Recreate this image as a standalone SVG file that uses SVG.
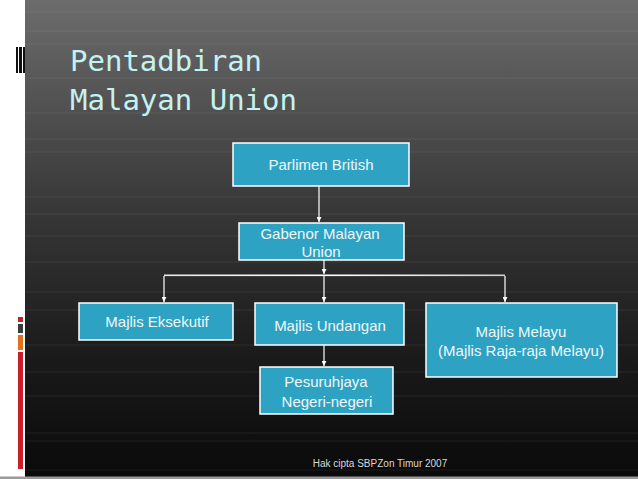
<svg xmlns="http://www.w3.org/2000/svg" width="638" height="479" viewBox="0 0 638 479">
<defs>
<linearGradient id="bg" x1="0" y1="0" x2="0" y2="1">
<stop offset="0" stop-color="#6c6c6c"/>
<stop offset="0.45" stop-color="#363636"/>
<stop offset="0.75" stop-color="#1a1a1a"/>
<stop offset="1" stop-color="#0a0a0a"/>
</linearGradient>
<linearGradient id="hbar" x1="0" y1="0" x2="1" y2="0">
<stop offset="0" stop-color="#e8e8e8"/>
<stop offset="0.5" stop-color="#ffffff"/>
<stop offset="1" stop-color="#cfcfcf"/>
</linearGradient>
<marker id="ah" markerWidth="6" markerHeight="5" refX="5" refY="2.5" orient="auto" markerUnits="userSpaceOnUse">
<path d="M0,0 L5,2.5 L0,5 Z" fill="#ffffff"/>
</marker>
<style>
.box{fill:#2ea2c2;stroke:#ffffff;stroke-width:1.5}
.lbl{font-family:"Liberation Sans",Arial,sans-serif;font-size:15px;fill:#eef8fb;text-anchor:middle}
.con{stroke:#ffffff;stroke-width:1.2;fill:none}
.tex{stroke:#ffffff;stroke-opacity:0.07;stroke-width:1}
</style>
</defs>
<rect x="0" y="0" width="638" height="479" fill="#ffffff"/>
<rect x="25" y="0" width="613" height="477" fill="url(#bg)"/>
<g class="tex">
<line x1="25" y1="12" x2="638" y2="12"/><line x1="25" y1="31" x2="638" y2="31"/>
<line x1="25" y1="44" x2="638" y2="44"/><line x1="25" y1="78" x2="638" y2="78"/>
<line x1="25" y1="113" x2="638" y2="113"/><line x1="25" y1="139" x2="638" y2="139"/>
<line x1="25" y1="152" x2="638" y2="152"/><line x1="25" y1="197" x2="638" y2="197"/>
<line x1="25" y1="214" x2="638" y2="214"/><line x1="25" y1="236" x2="638" y2="236"/>
<line x1="25" y1="262" x2="638" y2="262"/><line x1="25" y1="292" x2="638" y2="292"/>
<line x1="25" y1="310" x2="638" y2="310"/><line x1="25" y1="345" x2="638" y2="345"/>
<line x1="25" y1="372" x2="638" y2="372"/><line x1="25" y1="396" x2="638" y2="396"/>
<line x1="25" y1="433" x2="638" y2="433"/><line x1="25" y1="441" x2="638" y2="441"/>
<line x1="25" y1="470" x2="638" y2="470"/>
</g>
<rect x="0" y="476.5" width="638" height="2.5" fill="#9a9a9a"/>
<g id="decor">
<rect x="15" y="47" width="10" height="26" fill="#ffffff"/>
<rect x="16" y="47" width="2" height="26" fill="#111"/>
<rect x="19" y="47" width="3" height="26" fill="#111"/>
<rect x="23" y="47" width="2" height="26" fill="#111"/>
<rect x="18" y="317" width="5" height="5" fill="#c8202a"/>
<rect x="18" y="324" width="5" height="9" fill="#3c3c3c"/>
<rect x="18" y="335" width="5" height="15" fill="#e0701c"/>
<rect x="18" y="352" width="5" height="117" fill="#c8202a"/>
</g>
<g id="title" font-family="'DejaVu Sans Mono',monospace" font-size="29" fill="#c4f2f2">
<text x="70" y="71">Pentadbiran</text>
<text x="70" y="110">Malayan Union</text>
</g>
<g id="connectors">
<line class="con" x1="319" y1="186" x2="319" y2="222" marker-end="url(#ah)"/>
<line class="con" x1="324" y1="260" x2="324" y2="274" marker-end="url(#ah)"/>
<rect x="164" y="274.5" width="341" height="1.6" fill="url(#hbar)"/>
<line class="con" x1="164" y1="276" x2="164" y2="302" marker-end="url(#ah)"/>
<line class="con" x1="324" y1="276" x2="324" y2="302" marker-end="url(#ah)"/>
<line class="con" x1="505" y1="276" x2="505" y2="302" marker-end="url(#ah)"/>
<line class="con" x1="324" y1="345" x2="324" y2="366" marker-end="url(#ah)"/>
</g>
<g id="parlimen">
<rect class="box" x="233" y="143" width="176" height="43"/>
<text class="lbl" x="321" y="170">Parlimen British</text>
</g>
<g id="gabenor">
<rect class="box" x="239" y="223" width="165" height="37"/>
<text class="lbl" x="320" y="239">Gabenor Malayan</text>
<text class="lbl" x="321" y="257">Union</text>
</g>
<g id="eksekutif">
<rect class="box" x="79" y="303" width="154" height="37"/>
<text class="lbl" x="157" y="327">Majlis Eksekutif</text>
</g>
<g id="undangan">
<rect class="box" x="255" y="303" width="149" height="42"/>
<text class="lbl" x="330" y="331">Majlis Undangan</text>
</g>
<g id="pesuruhjaya">
<rect class="box" x="260" y="367" width="133" height="47"/>
<text class="lbl" x="326" y="387">Pesuruhjaya</text>
<text class="lbl" x="327" y="407">Negeri-negeri</text>
</g>
<g id="melayu">
<rect class="box" x="426" y="303" width="191" height="74"/>
<text class="lbl" x="521" y="337">Majlis Melayu</text>
<text class="lbl" x="521" y="356">(Majlis Raja-raja Melayu)</text>
</g>
<text x="380" y="467" font-family="'Liberation Sans',Arial,sans-serif" font-size="10" fill="#d8d8d8" text-anchor="middle">Hak cipta SBPZon Timur 2007</text>
</svg>
